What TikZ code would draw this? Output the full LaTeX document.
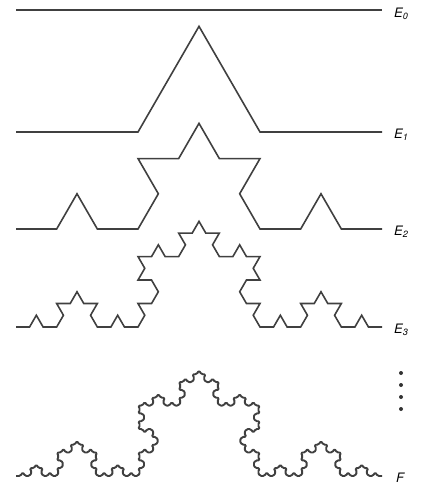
\documentclass[tikz,border=0pt]{standalone}
\usepackage{fontspec}
\newfontfamily\etiqfont{TeX Gyre Heros}
\usetikzlibrary{lindenmayersystems}
\pgfdeclarelindenmayersystem{Koch}{\rule{F -> F+F--F+F}}
\tikzset{
  curva/.style={line width=1.6pt, black!75, line join=miter},
  etiq/.style={anchor=west, inner sep=0pt, font=\etiqfont\itshape\fontsize{13}{15}\selectfont},
  punto/.style={circle, fill=black!80, inner sep=0pt, minimum size=4pt},
}

\begin{document}
\begin{tikzpicture}[x=1pt,y=1pt]
  \useasboundingbox (0,0) rectangle (430,-489);
  \coordinate (e0) at (16,-10);
  \coordinate (e1) at (16,-132);
  \coordinate (e2) at (16,-229);
  \coordinate (e3) at (16,-327);
  \coordinate (f) at (16,-476);
  \draw[curva] (e0) -- ++(366,0);
  \draw[curva, shift={(e1)}, lindenmayer system={Koch, axiom=F, order=1, angle=60, step=122pt}] lindenmayer system;
  \draw[curva, shift={(e2)}, lindenmayer system={Koch, axiom=F, order=2, angle=60, step=40.6667pt}] lindenmayer system;
  \draw[curva, shift={(e3)}, lindenmayer system={Koch, axiom=F, order=3, angle=60, step=13.5556pt}] lindenmayer system;
  \draw[curva, line width=1.9pt, rounded corners=1.5pt, line join=round, shift={(f)}, lindenmayer system={Koch, axiom=F, order=4, angle=60, step=4.5185pt}] lindenmayer system;
  \node[etiq] (le0) at (394,-14) {E\textsubscript{0}};
  \node[etiq] (le1) at (394,-135) {E\textsubscript{1}};
  \node[etiq] (le2) at (394,-232) {E\textsubscript{2}};
  \node[etiq] (le3) at (394,-330) {E\textsubscript{3}};
  \node[etiq] (lf) at (396,-478) {F};
  \foreach \y [count=\i] in {373,385,397,409}
    \node[punto] (p\i) at (401,-\y) {};
\end{tikzpicture}
\end{document}
